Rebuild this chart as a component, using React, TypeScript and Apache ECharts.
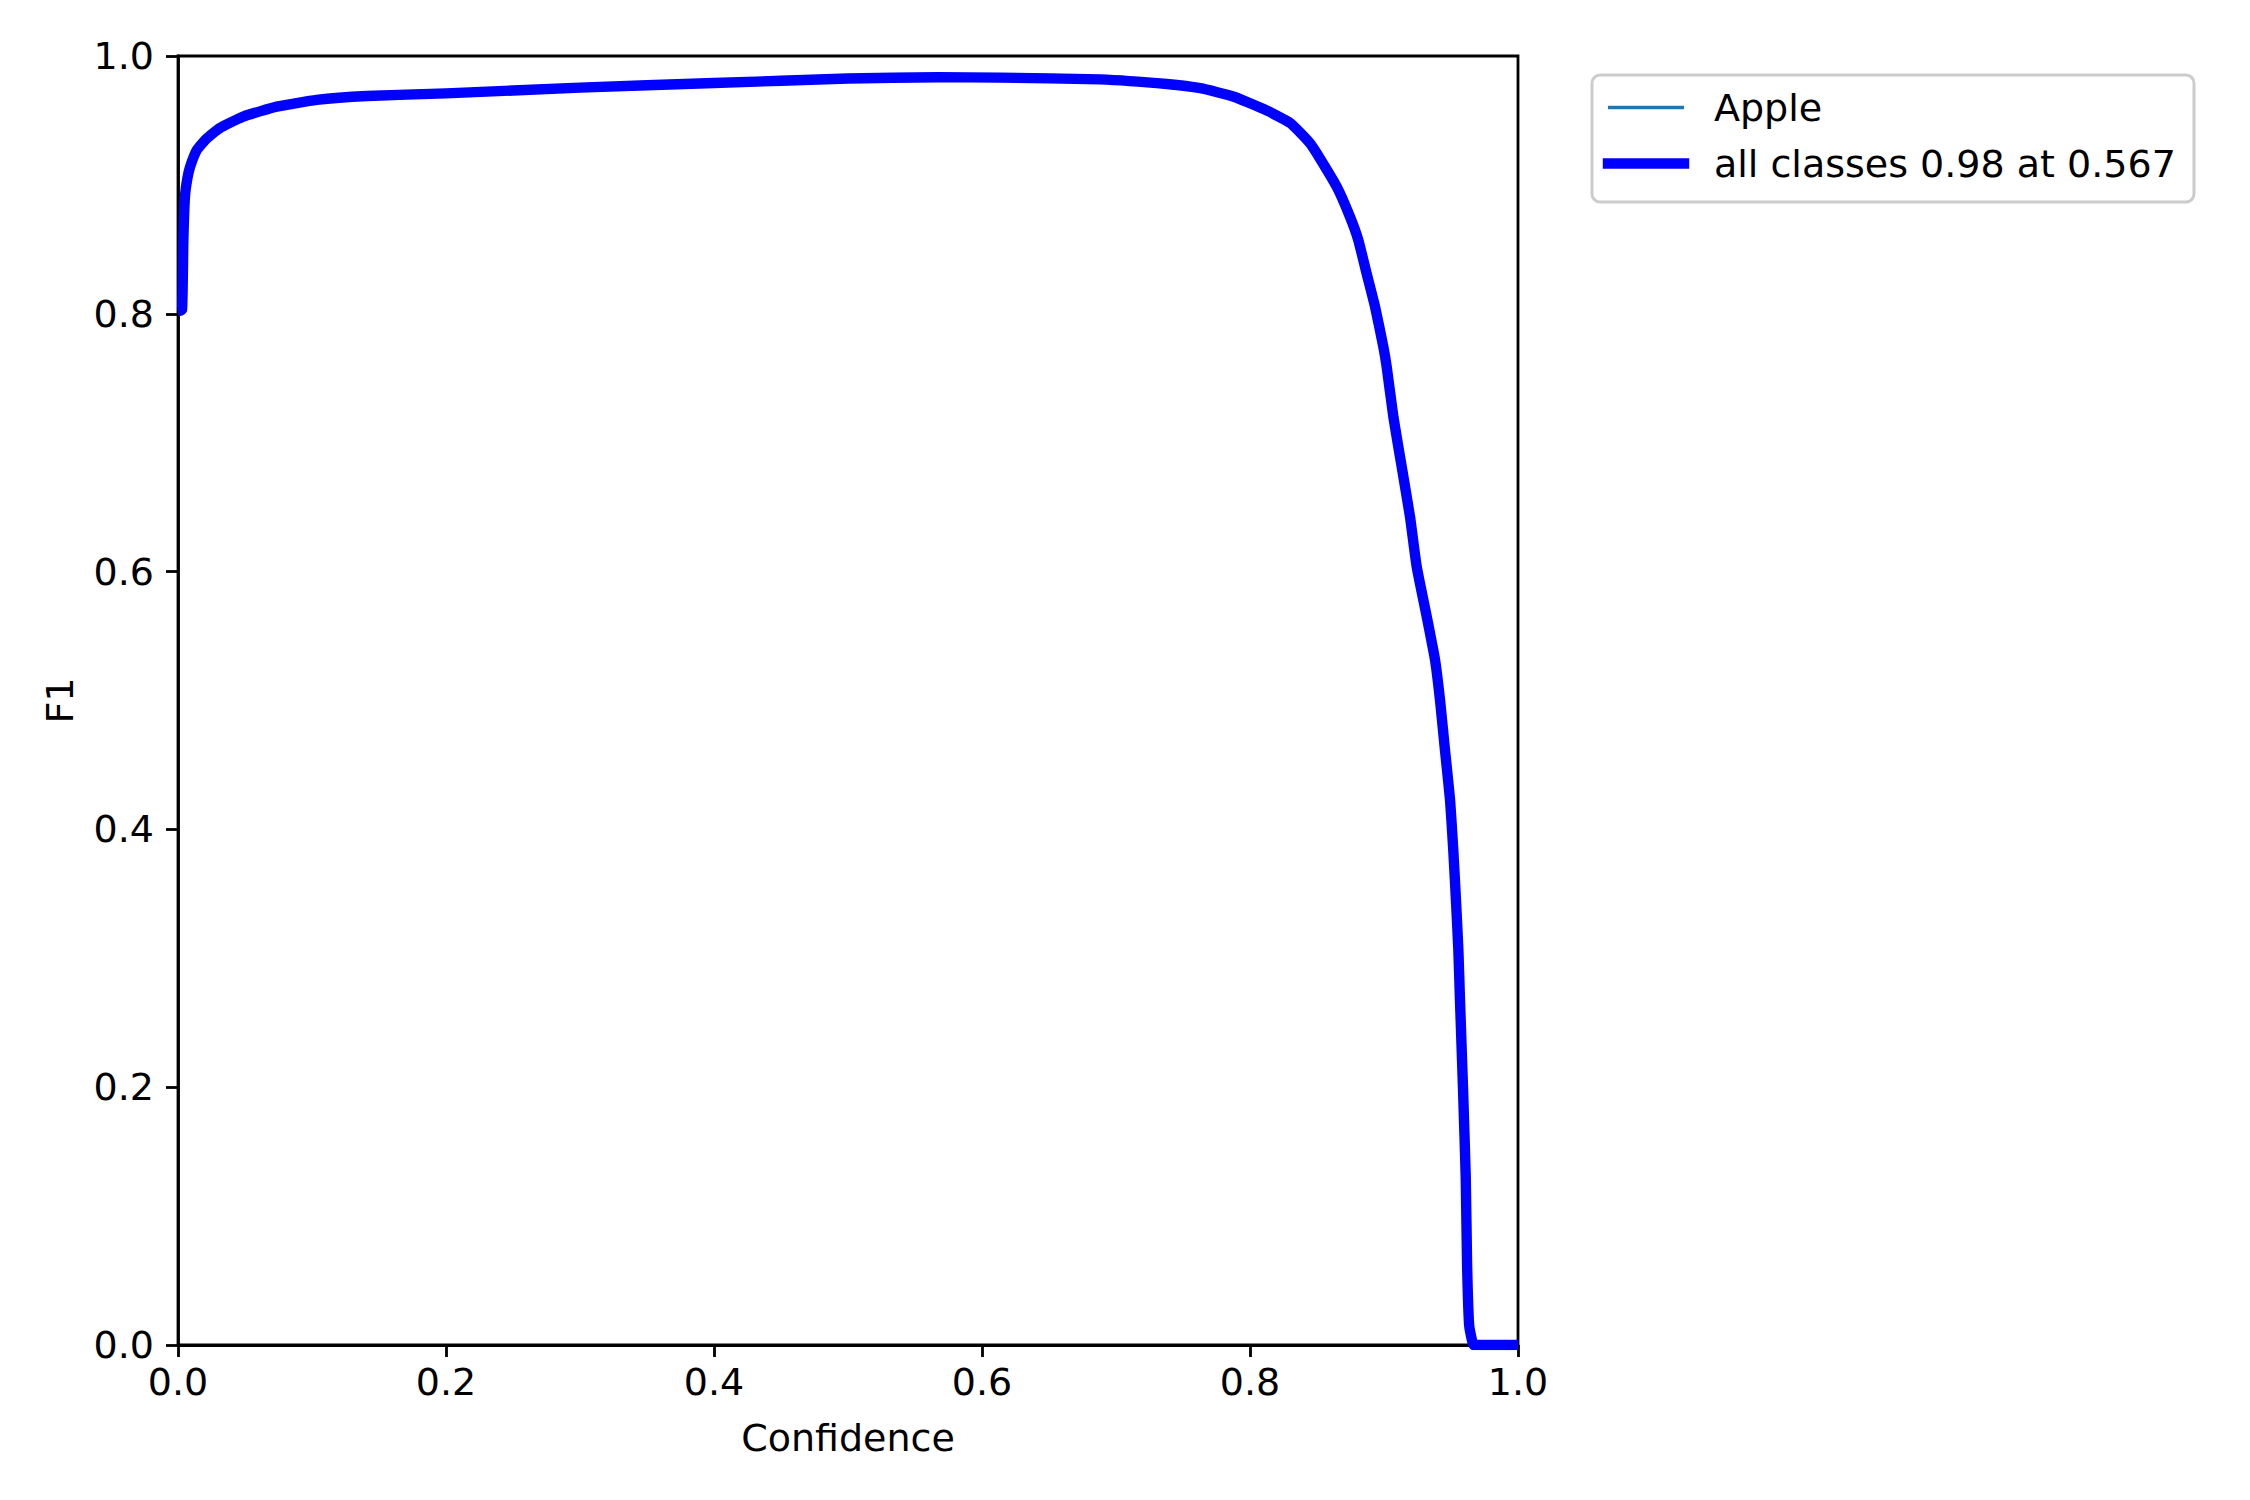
import React, { useEffect, useRef } from "react";
import * as echarts from "echarts";

// Confidence thresholds (x)
const confidence = [
  0, 0.003, 0.004, 0.0052, 0.007, 0.009, 0.014, 0.0214, 0.031, 0.0487, 0.0737,
  0.1035, 0.141, 0.2, 0.3, 0.4, 0.5, 0.567, 0.613, 0.688, 0.738, 0.763, 0.788,
  0.812, 0.83, 0.838, 0.845, 0.8522, 0.8647, 0.8746, 0.8808, 0.887, 0.8933,
  0.8995, 0.902, 0.907, 0.9132, 0.9194, 0.9244, 0.9319, 0.9381, 0.9418, 0.9455,
  0.9493, 0.9517, 0.9537, 0.9555, 0.9567, 0.959, 0.961, 0.962, 0.9635, 0.966,
  0.967, 1.0,
];

// F1 for the only class "Apple"
const f1Apple = [
  0.802, 0.803, 0.857, 0.891, 0.905, 0.914, 0.927, 0.936, 0.944, 0.953, 0.9607,
  0.966, 0.969, 0.971, 0.9755, 0.979, 0.9825, 0.9835, 0.9832, 0.9819, 0.9783,
  0.975, 0.9684, 0.958, 0.948, 0.94, 0.932, 0.9205, 0.8986, 0.8753, 0.8573,
  0.8314, 0.8055, 0.7745, 0.759, 0.72, 0.6814, 0.6426, 0.6038, 0.565, 0.5314,
  0.5004, 0.4616, 0.4228, 0.384, 0.3452, 0.3064, 0.2677, 0.198, 0.13, 0.063,
  0.016, 0.002, 0, 0,
];

// Mean over all classes (a single class here, so identical)
const f1AllClasses = f1Apple;

const xTicks = [0, 0.2, 0.4, 0.6, 0.8, 1.0];
const seriesNames = ["Apple", "all classes 0.98 at 0.567"];
const seriesColors = ["#1f77b4", "#0000ff"];

const FONT = "DejaVu Sans";

export default function App() {
  const ref = useRef<HTMLDivElement>(null);

  useEffect(() => {
    if (!ref.current) return;
    const chart = echarts.init(ref.current, undefined, { renderer: "svg" });

    const toPairs = (ys: number[]) => confidence.map((x, i) => [x, ys[i]]);

    const legendTextStyle = {
      fontSize: 38,
      fontFamily: FONT,
      fill: "#000",
      verticalAlign: "middle",
      align: "left",
    };

    chart.setOption({
      animation: false,
      backgroundColor: "#ffffff",
      textStyle: { fontFamily: FONT, color: "#000" },
      grid: {
        left: 178,
        top: 56,
        width: 1340,
        height: 1289,
        show: true,
        borderColor: "#000",
        borderWidth: 2.8,
        backgroundColor: "transparent",
        containLabel: false,
        outerBoundsMode: "none",
      },
      xAxis: {
        type: "value",
        min: xTicks[0],
        max: xTicks[xTicks.length - 1],
        interval: 0.2,
        name: "Confidence",
        nameLocation: "middle",
        nameGap: 74,
        nameTextStyle: { fontSize: 38, fontFamily: FONT, color: "#000" },
        axisLine: { show: true, lineStyle: { color: "#000", width: 2.8 } },
        axisTick: { show: true, inside: false, length: 12, lineStyle: { color: "#000", width: 2.8 } },
        axisLabel: {
          fontSize: 38,
          fontFamily: FONT,
          color: "#000",
          margin: 18,
          formatter: (v: number) => v.toFixed(1),
        },
        splitLine: { show: false },
      },
      yAxis: {
        type: "value",
        min: 0,
        max: 1,
        interval: 0.2,
        name: "F1",
        nameLocation: "middle",
        nameGap: 99,
        nameTextStyle: { fontSize: 38, fontFamily: FONT, color: "#000" },
        axisLine: { show: true, lineStyle: { color: "#000", width: 2.8 } },
        axisTick: { show: true, inside: false, length: 12, lineStyle: { color: "#000", width: 2.8 } },
        axisLabel: {
          fontSize: 38,
          fontFamily: FONT,
          color: "#000",
          margin: 24,
          formatter: (v: number) => v.toFixed(1),
        },
        splitLine: { show: false },
      },
      graphic: [
        {
          type: "rect",
          shape: { x: 1592, y: 75, width: 602, height: 127, r: 8 },
          style: { fill: "rgba(255,255,255,0.8)", stroke: "#cccccc", lineWidth: 3 },
          z: 10,
        },
        {
          type: "line",
          shape: { x1: 1608, y1: 107.5, x2: 1684, y2: 107.5 },
          style: { stroke: seriesColors[0], lineWidth: 3.5 },
          z: 11,
        },
        {
          type: "line",
          shape: { x1: 1608, y1: 163.5, x2: 1684, y2: 163.5 },
          style: { stroke: seriesColors[1], lineWidth: 10.4, lineCap: "square" },
          z: 11,
        },
        {
          type: "text",
          x: 1714,
          y: 107.5,
          style: { ...legendTextStyle, text: seriesNames[0] },
          z: 11,
        },
        {
          type: "text",
          x: 1714,
          y: 163.5,
          style: { ...legendTextStyle, text: seriesNames[1] },
          z: 11,
        },
      ],
      series: [
        {
          name: seriesNames[0],
          type: "line",
          data: toPairs(f1Apple),
          showSymbol: false,
          symbol: "none",
          smooth: 0.15,
          color: seriesColors[0],
          lineStyle: { width: 3.5, color: seriesColors[0], join: "round" },
          z: 2,
        },
        {
          name: seriesNames[1],
          type: "line",
          data: toPairs(f1AllClasses),
          showSymbol: false,
          symbol: "none",
          smooth: 0.15,
          color: seriesColors[1],
          lineStyle: { width: 10.4, color: seriesColors[1], join: "round" },
          z: 3,
        },
      ],
    });

    return () => chart.dispose();
  }, []);

  return (
    <div
      ref={ref}
      style={{ position: "absolute", left: 0, top: 0, width: 2250, height: 1500 }}
    />
  );
}
